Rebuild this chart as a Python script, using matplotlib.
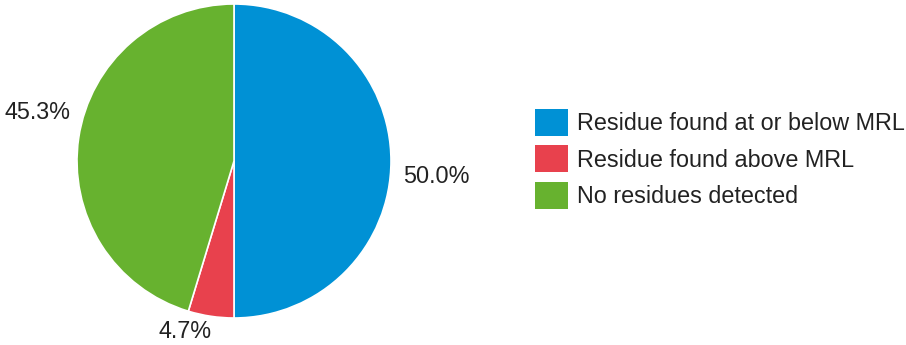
import matplotlib
matplotlib.use('AGG')
import matplotlib.pyplot as plt
from matplotlib.patches import Patch

labels = ['Residue found at or below MRL', 'Residue found above MRL', 'No residues detected']
values = [50.0, 4.7, 45.3]
colors = ['#0091D5', '#E8414D', '#67B22F']

plt.rcParams['font.family'] = ['Liberation Sans', 'DejaVu Sans']

fig = plt.figure(figsize=(9.06, 3.45), dpi=100)
# pie centre ~ (234,161) px, radius ~157 px
ax = fig.add_axes([(234 - 157) / 906, (345 - 161 - 157) / 345, 314 / 906, 314 / 345])
wedges, _ = ax.pie(values, colors=colors, startangle=90, counterclock=False,
                   wedgeprops=dict(edgecolor='white', linewidth=1.2))
ax.set_xlim(-1, 1)
ax.set_ylim(-1, 1)
ax.set_aspect('equal')
ax.axis('off')

# percentage labels outside the pie
label_pos = [(1.29, -0.10), (-0.31, -1.085), (-1.25, 0.31)]
for v, (x, y) in zip(values, label_pos):
    ax.text(x, y, '%.1f%%' % v, ha='center', va='center', fontsize=16.8,
            color='#222222', clip_on=False)

handles = [Patch(facecolor=c, edgecolor='none') for c in colors]
fig.legend(handles, labels, loc='upper left', bbox_to_anchor=(535 / 906, 1 - 109 / 345),
           frameon=False, fontsize=16.8, handlelength=1.42, handleheight=1.38,
           labelspacing=0.42, handletextpad=0.39, borderpad=0, borderaxespad=0,
           labelcolor='#222222')

plt.savefig('out.png', dpi=100)
